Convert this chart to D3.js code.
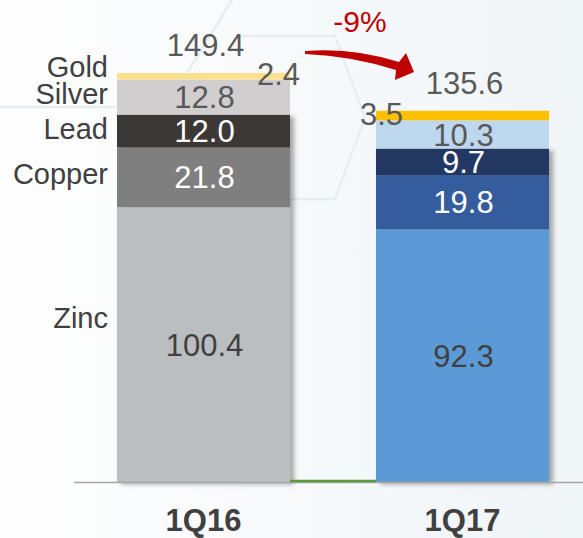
<!DOCTYPE html>
<html>
<head>
<meta charset="utf-8">
<script src="https://cdn.jsdelivr.net/npm/d3@7"></script>
<style>
  html, body { margin: 0; padding: 0; background: #fbfcfd; }
  svg { display: block; font-family: "Liberation Sans", Arial, sans-serif; }
</style>
</head>
<body>
<svg width="583" height="538"></svg>
<script>
// data (production, by metal)
var categories = ["1Q16", "1Q17"];
var metals = ["Zinc", "Copper", "Lead", "Silver", "Gold"];
var values1Q16 = [100.4, 21.8, 12.0, 12.8, 2.4];
var values1Q17 = [92.3, 19.8, 9.7, 10.3, 3.5];
var totals = [149.4, 135.6];
var changeLabel = "-9%";

var colors1Q16 = ["#bbbec1", "#7f7f7f", "#3a3836", "#d0cece", "#fde08e"];
var colors1Q17 = ["#5b9ad5", "#345b9c", "#203864", "#bdd7ee", "#ffc000"];
var labelColors = ["#404040", "#ffffff", "#ffffff", "#595959", "#595959"];

var svg = d3.select("svg"),
    width = +svg.attr("width"),
    height = +svg.attr("height"),
    baseY = 482;

// table for d3.stack
var rows = categories.map(function (c, i) {
    var vals = i === 0 ? values1Q16 : values1Q17;
    var r = { cat: c };
    metals.forEach(function (m, j) { r[m] = vals[j]; });
    return r;
});
var series = d3.stack().keys(metals)(rows);

var x = d3.scaleBand()
    .domain(categories)
    .range([117, 549])
    .paddingInner(0.332)
    .paddingOuter(0);

var y = d3.scaleLinear()
    .domain([0, d3.max(totals)])
    .range([baseY, 73]);

// background
var defs = svg.append("defs");
var bg = defs.append("linearGradient").attr("id", "bg").attr("x1", 0).attr("x2", 1).attr("y1", 0).attr("y2", 0);
bg.append("stop").attr("offset", "0%").attr("stop-color", "#fefefe");
bg.append("stop").attr("offset", "100%").attr("stop-color", "#f0f5f8");
svg.append("rect").attr("width", width).attr("height", height).attr("fill", "url(#bg)");

var shadow = defs.append("filter").attr("id", "shadow")
    .attr("x", "-10%").attr("y", "-10%").attr("width", "130%").attr("height", "130%");
shadow.append("feDropShadow").attr("dx", 4).attr("dy", 2).attr("stdDeviation", 2.5)
    .attr("flood-color", "#000").attr("flood-opacity", 0.35);

// faint hexagon decoration
var deco = svg.append("g").attr("fill", "none").attr("stroke", "#e6eef2").attr("stroke-width", 2.5);
deco.append("path").attr("d", "M242,36 L335,36 L365,118 L335,199 L290,199");
deco.append("path").attr("d", "M0,107 L117,107");
deco.append("path").attr("d", "M232,0 L187,73");

// bars: bottom three segments carry the drop shadow
var bars = svg.append("g");
var lower = bars.append("g").attr("filter", "url(#shadow)");
var upper = bars.append("g");

series.forEach(function (s, j) {
    var target = j < 3 ? lower : upper;
    target.selectAll(null)
        .data(s)
        .enter().append("rect")
        .attr("x", function (d) { return x(d.data.cat); })
        .attr("y", function (d) { return y(d[1]); })
        .attr("width", x.bandwidth())
        .attr("height", function (d) { return y(d[0]) - y(d[1]); })
        .attr("fill", function (d, i) { return i === 0 ? colors1Q16[j] : colors1Q17[j]; });
});

// axis line + green connector between bars
svg.append("line")
    .attr("x1", 74).attr("x2", width)
    .attr("y1", baseY + 0.5).attr("y2", baseY + 0.5)
    .attr("stroke", "#a6a6a6").attr("stroke-width", 1.5);
svg.append("line")
    .attr("x1", x("1Q16") + x.bandwidth()).attr("x2", x("1Q17"))
    .attr("y1", baseY - 1).attr("y2", baseY - 1)
    .attr("stroke", "#5b9b3b").attr("stroke-width", 2.5);

// segment value labels
series.forEach(function (s, j) {
    s.forEach(function (d, i) {
        var mid = (y(d[0]) + y(d[1])) / 2;
        var t = svg.append("text")
            .style("font-size", "31px")
            .attr("fill", labelColors[j])
            .text(d3.format(".1f")(d[1] - d[0]));
        if (metals[j] === "Gold") {
            // gold is too thin, label sits beside it
            if (i === 0) t.attr("x", x(d.data.cat) + x.bandwidth() + 10).attr("text-anchor", "end");
            else t.attr("x", x(d.data.cat) - 16).attr("text-anchor", "start");
            t.attr("y", mid + 9);
        } else {
            t.attr("x", x(d.data.cat) + x.bandwidth() / 2 + 1)
                .attr("y", mid)
                .attr("dy", "0.36em")
                .attr("text-anchor", "middle");
        }
    });
});

// totals
svg.selectAll(".total")
    .data(categories)
    .enter().append("text")
    .attr("class", "total")
    .attr("x", function (d) { return x(d) + x.bandwidth() / 2 + 2; })
    .attr("y", function (d, i) { return y(totals[i]) - 17; })
    .attr("text-anchor", "middle")
    .attr("fill", "#595959")
    .style("font-size", "31px")
    .text(function (d, i) { return d3.format(".1f")(totals[i]); });

// metal names beside first bar
var nudge = { Zinc: -17, Copper: 7, Lead: 8, Silver: 7, Gold: 1 };
svg.selectAll(".metal")
    .data(series)
    .enter().append("text")
    .attr("class", "metal")
    .attr("x", 108)
    .attr("y", function (s) { return (y(s[0][0]) + y(s[0][1])) / 2 + nudge[s.key]; })
    .attr("text-anchor", "end")
    .attr("fill", "#404040")
    .style("font-size", "29px")
    .text(function (s) { return s.key; });

// category axis labels
svg.selectAll(".cat")
    .data(categories)
    .enter().append("text")
    .attr("class", "cat")
    .attr("x", function (d) { return x(d) + x.bandwidth() / 2; })
    .attr("y", 531)
    .attr("text-anchor", "middle")
    .attr("fill", "#404040")
    .style("font-size", "31px")
    .style("font-weight", "bold")
    .text(function (d) { return d; });

// change arrow
svg.append("path")
    .attr("d", "M305,51 Q352,47 399,62 L406,53 L414,72 L395,80 L396,70 Q352,56 305,54 Z")
    .attr("fill", "#c00000");
svg.append("text")
    .attr("x", 360).attr("y", 32)
    .attr("text-anchor", "middle")
    .attr("fill", "#c00000")
    .style("font-size", "30px")
    .text(changeLabel);
</script>
</body>
</html>
